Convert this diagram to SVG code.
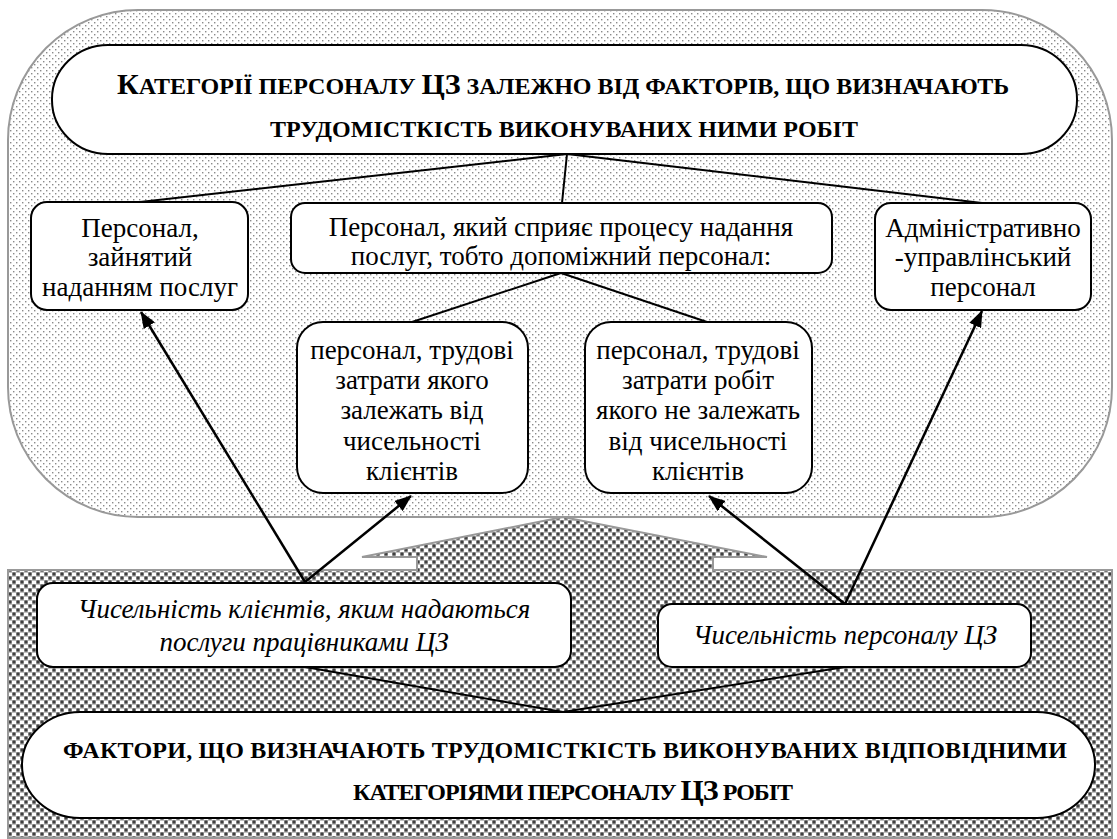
<svg xmlns="http://www.w3.org/2000/svg" width="1117" height="839" viewBox="0 0 1117 839">
<style>
.box{fill:#fff;stroke:#000;stroke-width:2}
text{font-family:'Liberation Serif','Tinos','DejaVu Serif',serif;fill:#000;text-anchor:middle}
.t{font-size:27px}
.ti{font-size:27px;font-style:italic}
.tb{font-size:24px;font-weight:bold}
.big{font-size:30px}
.ln{stroke:#000;stroke-width:2;fill:none}
.ar{stroke:#000;stroke-width:2.5;fill:none;marker-end:url(#ah)}
</style>
<defs>
<pattern id="dots" width="6" height="6" patternUnits="userSpaceOnUse">
<rect width="6" height="6" fill="#fff"/>
<rect x="1" y="1" width="1.4" height="1.4" fill="#8a8a8a"/>
<rect x="4" y="4" width="1.4" height="1.4" fill="#8a8a8a"/>
</pattern>
<pattern id="checker" width="8" height="8" patternUnits="userSpaceOnUse">
<rect width="8" height="8" fill="#fff"/>
<rect x="0.3" y="0.3" width="3.4" height="3.4" fill="#404040"/>
<rect x="4.3" y="4.3" width="3.4" height="3.4" fill="#404040"/>
<rect x="4" y="0" width="4" height="0.6" fill="#999"/>
<rect x="0" y="4" width="4" height="0.6" fill="#999"/>
</pattern>
<marker id="ah" markerUnits="userSpaceOnUse" markerWidth="17" markerHeight="13" refX="16" refY="6.5" orient="auto">
<path d="M0,0 L17,6.5 L0,13 Z" fill="#000"/>
</marker>
</defs>

<g id="backgrounds">
<rect id="top-area" x="8" y="10" width="1104" height="507" rx="130" ry="130" fill="url(#dots)" stroke="#999" stroke-width="2"/>
<path id="bottom-area" d="M8,570 H417 V557 H362 L563,517 L767,557 H713 V570 H1112 V838 H8 Z" fill="url(#checker)" stroke="#999" stroke-width="2"/>
</g>

<g id="connectors">
<line class="ln" x1="567" y1="154" x2="140" y2="202"/>
<line class="ln" x1="567" y1="154" x2="562" y2="203"/>
<line class="ln" x1="567" y1="154" x2="982" y2="203"/>
<line class="ln" x1="561" y1="273" x2="412" y2="322"/>
<line class="ln" x1="561" y1="273" x2="707" y2="322"/>
<line class="ln" x1="563" y1="712" x2="305" y2="667"/>
<line class="ln" x1="563" y1="712" x2="845" y2="667"/>
<line class="ar" x1="305" y1="582" x2="141" y2="312"/>
<line class="ar" x1="305" y1="582" x2="411" y2="496"/>
<line class="ar" x1="845" y1="604" x2="709" y2="496"/>
<line class="ar" x1="845" y1="604" x2="982" y2="311"/>
</g>

<g id="title-top">
<rect class="box" x="52" y="45" width="1025" height="109" rx="56" ry="54"/>
<text class="tb" x="563" y="94" textLength="892" lengthAdjust="spacing"><tspan class="big">К</tspan>АТЕГОРІЇ ПЕРСОНАЛУ <tspan class="big">ЦЗ</tspan> ЗАЛЕЖНО ВІД ФАКТОРІВ, ЩО ВИЗНАЧАЮТЬ</text>
<text class="tb" x="564" y="137" textLength="588" lengthAdjust="spacing">ТРУДОМІСТКІСТЬ ВИКОНУВАНИХ НИМИ РОБІТ</text>
</g>

<g id="node-service">
<rect class="box" x="31" y="202" width="217" height="108" rx="16"/>
<text class="t" x="140" y="237">Персонал,</text>
<text class="t" x="140" y="266">зайнятий</text>
<text class="t" x="140" y="296">наданням послуг</text>
</g>

<g id="node-support">
<rect class="box" x="291" y="203" width="541" height="70" rx="14"/>
<text class="t" x="561" y="236">Персонал, який сприяє процесу надання</text>
<text class="t" x="561" y="265">послуг, тобто допоміжний персонал:</text>
</g>

<g id="node-admin">
<rect class="box" x="875" y="203" width="216" height="107" rx="16"/>
<text class="t" x="983" y="237">Адміністративно</text>
<text class="t" x="983" y="266">-управлінський</text>
<text class="t" x="983" y="296">персонал</text>
</g>

<g id="node-dependent">
<rect class="box" x="297" y="322" width="231" height="171" rx="26"/>
<text class="t" x="412" y="359">персонал, трудові</text>
<text class="t" x="412" y="389">затрати якого</text>
<text class="t" x="412" y="419">залежать від</text>
<text class="t" x="412" y="450">чисельності</text>
<text class="t" x="412" y="480">клієнтів</text>
</g>

<g id="node-independent">
<rect class="box" x="585" y="322" width="227" height="171" rx="26"/>
<text class="t" x="698" y="359">персонал, трудові</text>
<text class="t" x="698" y="389">затрати робіт</text>
<text class="t" x="698" y="419">якого не залежать</text>
<text class="t" x="698" y="450">від чисельності</text>
<text class="t" x="698" y="480">клієнтів</text>
</g>

<g id="node-clients">
<rect class="box" x="37" y="583" width="534" height="84" rx="16"/>
<text class="ti" x="304" y="618">Чисельність клієнтів, яким надаються</text>
<text class="ti" x="304" y="651">послуги працівниками ЦЗ</text>
</g>

<g id="node-staff">
<rect class="box" x="658" y="604" width="373" height="63" rx="14"/>
<text class="ti" x="845" y="644">Чисельність персоналу ЦЗ</text>
</g>

<g id="title-bottom">
<rect class="box" x="22" y="712" width="1073" height="106" rx="58" ry="53"/>
<text class="tb" x="565" y="758" textLength="1004" lengthAdjust="spacing">ФАКТОРИ, ЩО ВИЗНАЧАЮТЬ ТРУДОМІСТКІСТЬ ВИКОНУВАНИХ ВІДПОВІДНИМИ</text>
<text class="tb" x="573" y="800" textLength="440" lengthAdjust="spacing">КАТЕГОРІЯМИ ПЕРСОНАЛУ <tspan class="big">ЦЗ</tspan> РОБІТ</text>
</g>
</svg>
